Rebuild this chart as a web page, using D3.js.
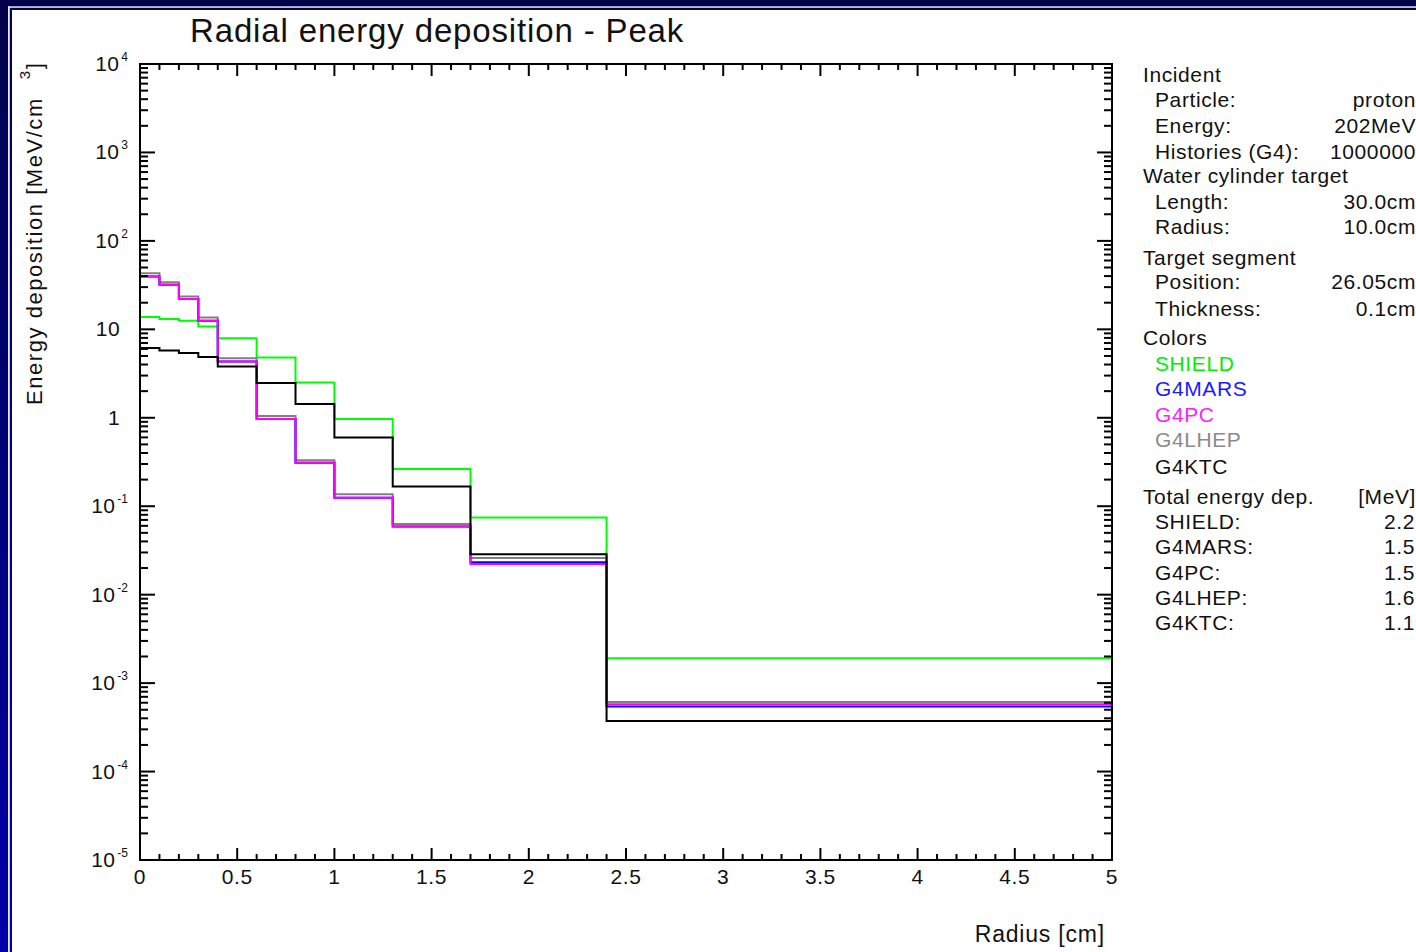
<!DOCTYPE html>
<html><head><meta charset="utf-8">
<script src="https://cdn.jsdelivr.net/npm/d3@7"></script>
<style>html,body{margin:0;padding:0;background:#fff;}svg{display:block;font-family:"Liberation Sans",Arial,Helvetica,sans-serif;}</style>
</head><body>
<svg id="c" width="1416" height="952"></svg>
<script>
// ---- data ----
const binEdges = [0, 0.1, 0.2, 0.3, 0.4, 0.6, 0.8, 1.0, 1.3, 1.7, 2.4, 5.0];
const seriesNames = ["SHIELD", "G4LHEP", "G4MARS", "G4PC", "G4KTC"];
const seriesColors = ["#00ff00", "#808080", "#0000ff", "#ff00ff", "#000000"];
const shieldVals = [13.8, 13.1, 12.5, 10.8, 7.95, 4.8, 2.5, 0.97, 0.263, 0.0745, 1.91e-3];
const g4lhepVals = [43, 34, 23.5, 13.6, 4.7, 1.05, 0.33, 0.137, 0.063, 0.0259, 6.1e-4];
const g4marsVals = [39.6, 32, 22, 12.5, 4.33, 0.97, 0.31, 0.125, 0.059, 0.0233, 5.43e-4];
const g4pcVals   = [39.6, 32, 22, 12.5, 4.33, 0.97, 0.31, 0.125, 0.059, 0.0222, 5.76e-4];
const g4ktcVals  = [6.14, 5.77, 5.39, 4.86, 3.8, 2.47, 1.43, 0.6, 0.167, 0.0287, 3.73e-4];
const seriesVals = [shieldVals, g4lhepVals, g4marsVals, g4pcVals, g4ktcVals];
const xTicks = [0, 0.5, 1, 1.5, 2, 2.5, 3, 3.5, 4, 4.5, 5];
const xTickLabels = ["0", "0.5", "1", "1.5", "2", "2.5", "3", "3.5", "4", "4.5", "5"];
const yDecades = [-5, -4, -3, -2, -1, 0, 1, 2, 3, 4];
const legendInfo = [
  ["Incident", null, 0], ["Particle:", "proton", 1], ["Energy:", "202MeV", 1], ["Histories (G4):", "1000000", 1],
  ["Water cylinder target", null, 0], ["Length:", "30.0cm", 1], ["Radius:", "10.0cm", 1],
  ["Target segment", null, 0], ["Position:", "26.05cm", 1], ["Thickness:", "0.1cm", 1],
  ["Colors", null, 0]
];
const legendColorNames = ["SHIELD", "G4MARS", "G4PC", "G4LHEP", "G4KTC"];
const legendColorCols = ["#00ee00", "#1a1aff", "#ff22ff", "#8a8a8a", "#111111"];
const totalNames = ["SHIELD:", "G4MARS:", "G4PC:", "G4LHEP:", "G4KTC:"];
const totalVals = ["2.2", "1.5", "1.5", "1.6", "1.1"];

// ---- drawing ----
const svg = d3.select("#c");
const W = 1416, H = 952;
const defs = svg.append("defs");
const lg = defs.append("linearGradient").attr("id","lb").attr("x1",0).attr("y1",0).attr("x2",0).attr("y2",1);
lg.append("stop").attr("offset","0%").attr("stop-color","#02024a");
lg.append("stop").attr("offset","100%").attr("stop-color","#0000a8");

svg.append("rect").attr("width",W).attr("height",H).attr("fill","#fff");
// frame
svg.append("rect").attr("x",0).attr("y",0).attr("width",W).attr("height",10).attr("fill","#02024a");
svg.append("rect").attr("x",0).attr("y",0).attr("width",12).attr("height",H).attr("fill","url(#lb)");
svg.append("rect").attr("x",8).attr("y",6.3).attr("width",W).attr("height",1.5).attr("fill","#e8e8f0");
svg.append("rect").attr("x",8).attr("y",6.3).attr("width",1.8).attr("height",H).attr("fill","#e8e8f0");

const x = d3.scaleLinear().domain([0, 5]).range([140, 1112]);
const y = d3.scaleLog().domain([1e-5, 1e4]).range([860, 64]);

// histograms
const g = svg.append("g");
seriesVals.forEach((vals, si) => {
  let d = "";
  vals.forEach((v, i) => {
    const x0 = x(binEdges[i]), x1 = x(binEdges[i+1]), yy = y(v);
    d += (i === 0 ? "M" : "L") + x0 + "," + yy + "L" + x1 + "," + yy;
  });
  g.append("path").attr("d", d).attr("fill","none").attr("stroke", seriesColors[si]).attr("stroke-width", 2);
});

// axes box
const ax = svg.append("g").attr("stroke","#000").attr("stroke-width",2);
ax.append("rect").attr("x",x(0)).attr("y",y(1e4)).attr("width",x(5)-x(0)).attr("height",y(1e-5)-y(1e4)).attr("fill","none");
// x ticks
const xMinor = d3.range(0, 50.5, 1).map(d => d/10);
xMinor.forEach(t => {
  const major = Math.abs(t*2 - Math.round(t*2)) < 1e-6;
  const len = major ? 12 : 6;
  ax.append("line").attr("x1",x(t)).attr("x2",x(t)).attr("y1",y(1e-5)).attr("y2",y(1e-5)-len);
  ax.append("line").attr("x1",x(t)).attr("x2",x(t)).attr("y1",y(1e4)).attr("y2",y(1e4)+len);
});
// y ticks
yDecades.forEach(e => {
  for (let m = 1; m <= 9; m++) {
    const v = m * Math.pow(10, e);
    if (e === 4 && m > 1) continue;
    const len = m === 1 ? 15 : 8;
    ax.append("line").attr("x1",x(0)).attr("x2",x(0)+len).attr("y1",y(v)).attr("y2",y(v));
    ax.append("line").attr("x1",x(5)).attr("x2",x(5)-len).attr("y1",y(v)).attr("y2",y(v));
  }
});

// x tick labels
const tl = svg.append("g").attr("font-size",21).attr("fill","#111");
xTicks.forEach((t, i) => {
  tl.append("text").attr("x",x(t)).attr("y",884).attr("text-anchor","middle").attr("letter-spacing",0.6).text(xTickLabels[i]);
});
// y tick labels
yDecades.forEach(e => {
  const yy = y(Math.pow(10, e)) + 7;
  if (e === 0 || e === 1) {
    tl.append("text").attr("x",120).attr("y",yy).attr("text-anchor","end").attr("letter-spacing",0.4).text(e === 0 ? "1" : "10");
  } else {
    const t = tl.append("text").attr("x",128).attr("y",yy).attr("text-anchor","end");
    t.append("tspan").attr("letter-spacing",0.4).text("10");
    t.append("tspan").attr("font-size",12).attr("dy",-10).attr("dx",2).text(String(e));
  }
});

// title
svg.append("text").attr("x",190).attr("y",42).attr("font-size",33).attr("letter-spacing",0.85).attr("fill","#111").text("Radial energy deposition - Peak");
// x label
svg.append("text").attr("x",1105).attr("y",942).attr("text-anchor","end").attr("font-size",23).attr("letter-spacing",0.8).attr("fill","#111").text("Radius [cm]");
// y label
const yl = svg.append("text").attr("transform","translate(42,405) rotate(-90)").attr("font-size",22).attr("letter-spacing",1.55).attr("fill","#111");
yl.append("tspan").text("Energy deposition [MeV/cm");
yl.append("tspan").attr("font-size",15).attr("dy",-12).attr("dx",18).text("3");
yl.append("tspan").attr("dy",12).text("]");

// legend panel
const lp = svg.append("g").attr("font-size",21).attr("letter-spacing",0.6).attr("fill","#111");
const rowY = [82, 107, 133, 159, 183, 209, 234, 265, 289, 316, 345];
legendInfo.forEach((r, i) => {
  lp.append("text").attr("x", r[2] ? 1155 : 1143).attr("y", rowY[i]).text(r[0]);
  if (r[1]) lp.append("text").attr("x",1416).attr("y",rowY[i]).attr("text-anchor","end").text(r[1]);
});
const colY = [371, 396, 422, 447, 474];
legendColorNames.forEach((n, i) => {
  lp.append("text").attr("x",1155).attr("y",colY[i]).attr("fill",legendColorCols[i]).text(n);
});
lp.append("text").attr("x",1143).attr("y",504).text("Total energy dep.");
lp.append("text").attr("x",1416).attr("y",504).attr("text-anchor","end").text("[MeV]");
const totY = [529, 554, 580, 605, 630];
totalNames.forEach((n, i) => {
  lp.append("text").attr("x",1155).attr("y",totY[i]).text(n);
  lp.append("text").attr("x",1415).attr("y",totY[i]).attr("text-anchor","end").text(totalVals[i]);
});
</script>
</body></html>
